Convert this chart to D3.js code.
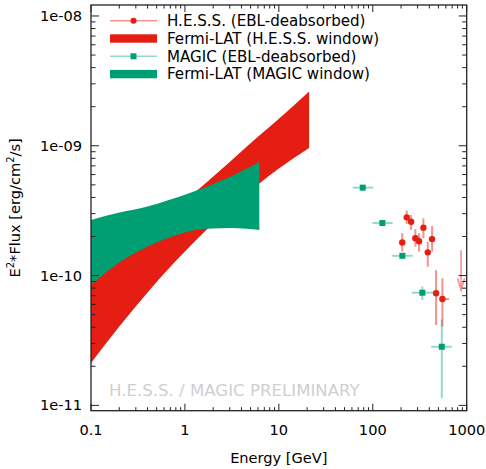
<!DOCTYPE html>
<html>
<head>
<meta charset="utf-8">
<script src="https://cdn.jsdelivr.net/npm/d3@7"></script>
<style>
  body{margin:0;background:#fff}
  svg{font-family:"DejaVu Sans",sans-serif}
</style>
</head>
<body>
<svg id="chart" width="486" height="469"></svg>
<script>
// H.E.S.S. points (EBL-deabsorbed): energy GeV, E2F, err low/high
const hessE=[206,230,256,284,311,346,385,428,472,551]
const hessF=[1.80e-10,2.81e-10,2.60e-10,1.94e-10,1.84e-10,2.34e-10,1.51e-10,1.91e-10,7.3e-11,6.6e-11]
const hessFLo=[1.53e-10,2.50e-10,2.25e-10,1.67e-10,1.53e-10,1.94e-10,1.17e-10,1.53e-10,4.16e-11,4.04e-11]
const hessFHi=[2.12e-10,3.16e-10,2.93e-10,2.28e-10,2.12e-10,2.76e-10,1.82e-10,2.41e-10,1.10e-10,9.53e-11]
const hessELo=[206,230,256,284,311,346,385,428,472,521]
const hessEHi=[206,230,256,284,311,346,385,428,472,650]
const hessUL={e:871,f:1.57e-10}

// MAGIC points (EBL-deabsorbed)
const magicE=[78.2,126.5,206.6,337,543]
const magicF=[4.76e-10,2.54e-10,1.42e-10,7.38e-11,2.83e-11]
const magicFLo=[4.51e-10,2.43e-10,1.35e-10,6.49e-11,1.135e-11]
const magicFHi=[4.99e-10,2.65e-10,1.49e-10,8.25e-11,4.6e-11]
const magicELo=[61.2,99,159,260,418]
const magicEHi=[101.4,163,267,441,693]

// Fermi-LAT butterflies
const bandE=[0.1,0.2,0.4,0.7,1,1.5,2,3,4.5,6.2,10,15,21]
const lat1Lo=[2.12e-11,4.06e-11,7.42e-11,1.169e-10,1.536e-10,2.062e-10,2.525e-10,3.30e-10,4.24e-10,5.13e-10,6.67e-10,8.20e-10,9.63e-10]
const lat1Hi=[8.93e-11,1.386e-10,2.145e-10,3.03e-10,3.77e-10,4.84e-10,5.81e-10,7.49e-10,9.79e-10,1.199e-9,1.614e-9,2.096e-9,2.62e-9]
const lat2Lo=[8.47e-11,1.262e-10,1.67e-10,1.97e-10,2.145e-10,2.28e-10,2.31e-10,2.33e-10,2.29e-10,2.245e-10]
const lat2Hi=[2.68e-10,3.06e-10,3.41e-10,3.86e-10,4.20e-10,4.67e-10,5.08e-10,5.75e-10,6.65e-10,7.50e-10]

const xTicks=[0.1,1,10,100,1000]
const yTicks=[1e-11,1e-10,1e-9,1e-8]
const legendLabels=['H.E.S.S. (EBL-deabsorbed)','Fermi-LAT (H.E.S.S. window)','MAGIC (EBL-deabsorbed)','Fermi-LAT (MAGIC window)']

const RED='#e41e12', RED_ERR='rgba(232,40,30,0.5)'
const GREEN='#009e73', GREEN_ERR='rgba(0,170,120,0.42)'

const margin={top:5,right:19.3,bottom:58.3,left:91}
const W=486-margin.left-margin.right
const H=469-margin.top-margin.bottom

const svg=d3.select('#chart')
const g=svg.append('g').attr('transform',`translate(${margin.left},${margin.top})`)

const x=d3.scaleLog().domain([0.1,1000]).range([0,W])
const y=d3.scaleLog().domain([9.1e-12,1.215e-8]).range([H,0])

// bands (smoothed edges)
const area=d3.area().curve(d3.curveMonotoneX)
  .x(d=>x(d[0])).y0(d=>y(d[1])).y1(d=>y(d[2]))
g.append('path')
  .datum(bandE.map((e,i)=>[e,lat1Lo[i],lat1Hi[i]]))
  .attr('d',area).attr('fill',RED)
g.append('path')
  .datum(lat2Lo.map((v,i)=>[bandE[i],v,lat2Hi[i]]))
  .attr('d',area).attr('fill',GREEN)

// error bars
function errBars(E,F,ELo,EHi,FLo,FHi,color,w){
  const eb=g.append('g').attr('stroke',color).attr('stroke-width',w)
  E.forEach((e,i)=>{
    eb.append('line').attr('x1',x(e)).attr('x2',x(e)).attr('y1',y(FLo[i])).attr('y2',y(FHi[i]))
    if(EHi[i]>ELo[i]){
      eb.append('line').attr('x1',x(ELo[i])).attr('x2',x(EHi[i])).attr('y1',y(F[i])).attr('y2',y(F[i]))
    }
  })
}
errBars(magicE,magicF,magicELo,magicEHi,magicFLo,magicFHi,GREEN_ERR,2)
errBars(hessE,hessF,hessELo,hessEHi,hessFLo,hessFHi,RED_ERR,2)

// upper limit arrow
const ulx=x(hessUL.e), uly=y(hessUL.f)
g.append('path')
  .attr('d',`M${ulx},${uly}V${uly+40}M${ulx-3.5},${uly+28}L${ulx},${uly+40}L${ulx+3.5},${uly+28}`)
  .attr('fill','none').attr('stroke',RED_ERR).attr('stroke-width',1.6)

g.selectAll('rect.magic').data(magicE).enter().append('rect')
  .attr('class','magic')
  .attr('x',d=>x(d)-3).attr('y',(d,i)=>y(magicF[i])-3)
  .attr('width',6).attr('height',6).attr('fill',GREEN)
g.selectAll('circle.hess').data(hessE).enter().append('circle')
  .attr('class','hess')
  .attr('cx',d=>x(d)).attr('cy',(d,i)=>y(hessF[i]))
  .attr('r',3.2).attr('fill',RED)

// preliminary label
g.append('text').attr('x',18).attr('y',H-14.5)
  .attr('font-size',16.6).attr('fill','#cfcfcf')
  .text('H.E.S.S. / MAGIC PRELIMINARY')

// frame + ticks (mirrored on all four sides, pointing inward)
function minorTicks(dom){
  const out=[]
  for(let p=Math.floor(Math.log10(dom[0]));p<=Math.ceil(Math.log10(dom[1]));p++){
    for(let k=1;k<10;k++){
      const v=k*Math.pow(10,p)
      if(v>=dom[0]*0.999&&v<=dom[1]*1.001)out.push({v,major:k===1})
    }
  }
  return out
}
const tk=g.append('g').attr('stroke','#222').attr('stroke-width',1)
minorTicks(x.domain()).forEach(t=>{
  const L=t.major?7:3.5
  tk.append('line').attr('x1',x(t.v)).attr('x2',x(t.v)).attr('y1',H).attr('y2',H-L)
  tk.append('line').attr('x1',x(t.v)).attr('x2',x(t.v)).attr('y1',0).attr('y2',L)
})
minorTicks(y.domain()).forEach(t=>{
  const L=t.major?8:4.5
  tk.append('line').attr('y1',y(t.v)).attr('y2',y(t.v)).attr('x1',0).attr('x2',L)
  tk.append('line').attr('y1',y(t.v)).attr('y2',y(t.v)).attr('x1',W).attr('x2',W-L)
})
g.append('rect').attr('width',W).attr('height',H)
  .attr('fill','none').attr('stroke','#222').attr('stroke-width',1.3)

g.selectAll('text.xt').data(xTicks).enter().append('text')
  .attr('class','xt').attr('x',d=>x(d)).attr('y',H+24)
  .attr('text-anchor','middle').attr('font-size',14.6)
  .text(d=>d3.format('~g')(d))
g.selectAll('text.yt').data(yTicks).enter().append('text')
  .attr('class','yt').attr('x',-9).attr('y',d=>y(d)+5)
  .attr('text-anchor','end').attr('font-size',14.6)
  .text(d=>'1e-'+String(-Math.round(Math.log10(d))).padStart(2,'0'))

g.append('text').attr('x',W/2).attr('y',H+52.5)
  .attr('text-anchor','middle').attr('font-size',14.6)
  .text('Energy [GeV]')

const yl=svg.append('text')
  .attr('transform',`translate(20,${margin.top+H/2}) rotate(-90)`)
  .attr('text-anchor','middle').attr('font-size',14.6)
yl.append('tspan').text('E')
yl.append('tspan').attr('font-size',10).attr('dy',-6).text('2')
yl.append('tspan').attr('dy',6).text('*Flux [erg/cm')
yl.append('tspan').attr('font-size',10).attr('dy',-6).text('2')
yl.append('tspan').attr('dy',6).text('/s]')

// legend
const lg=svg.append('g').attr('font-size',15.1)
legendLabels.forEach((lab,i)=>{
  const cy=20.7+i*17.8
  const row=lg.append('g').attr('transform',`translate(0,${cy})`)
  if(i===0||i===2){
    row.append('line').attr('x1',110).attr('x2',157)
      .attr('stroke',i===0?RED_ERR:GREEN_ERR).attr('stroke-width',1.6)
    if(i===0)row.append('circle').attr('cx',133.5).attr('r',3).attr('fill',RED)
    else row.append('rect').attr('x',130.5).attr('y',-3).attr('width',6).attr('height',6).attr('fill',GREEN)
  }else{
    row.append('rect').attr('x',110).attr('y',-4.2).attr('width',47).attr('height',8.4)
      .attr('fill',i===1?RED:GREEN)
  }
  row.append('text').attr('x',167).attr('y',5.3).text(lab)
})
</script>
</body>
</html>
